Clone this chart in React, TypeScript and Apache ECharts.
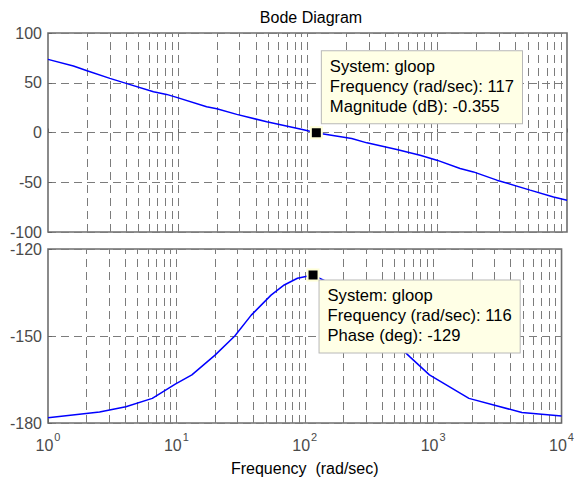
import React, { useEffect, useRef } from "react";
import * as echarts from "echarts";

const magFreq = [1, 1.57, 2, 3, 4, 6.5, 8.2, 9.8, 16.7, 20, 28.5, 48.5, 87.7, 117, 133, 219, 287, 488, 738, 993, 1500, 1900, 2880, 5200, 7870, 10000];
const magDb = [73.5, 66.8, 62.1, 54.4, 49.4, 40.9, 38.3, 35.3, 25.8, 23.8, 18.2, 10.8, 3.5, -0.355, -1.5, -6.0, -10.4, -17.1, -22.8, -27.8, -36.2, -39.6, -47.9, -57.9, -64.8, -68.1];

const phFreq = [1, 2.52, 4.04, 6.49, 9.8, 13.2, 20, 28.5, 38.3, 54.6, 69.2, 87.7, 116, 168, 250, 400, 656, 935, 1900, 4910, 10000];
const phDeg = [-178.2, -176.2, -174.4, -171.5, -166.6, -163.4, -156.6, -150, -142.8, -135.9, -132.4, -130.1, -129, -132.4, -138, -148, -157.1, -163.4, -171.5, -176.4, -177.6];

const gridFreqs = [2, 3, 4, 5, 6, 7, 8, 9, 10, 20, 30, 40, 50, 60, 70, 80, 90, 100, 200, 300, 400, 500, 600, 700, 800, 900, 1000, 2000, 3000, 4000, 5000, 6000, 7000, 8000, 9000];

const magCursor = { freq: 117, value: -0.355, label: ["System: gloop", "Frequency (rad/sec): 117", "Magnitude (dB): -0.355"] };
const phCursor = { freq: 116, value: -129, label: ["System: gloop", "Frequency (rad/sec): 116", "Phase (deg): -129"] };

const FONT = 'Arial, "Liberation Sans", sans-serif';
const GRID_COLOR = "#7c7c7c";

export default function App() {
  const ref = useRef<HTMLDivElement>(null);
  useEffect(() => {
    if (!ref.current) return;
    const chart = echarts.init(ref.current, null, { renderer: "svg" });
    const vLines = {
      silent: true,
      symbol: ["none", "none"],
      label: { show: false },
      lineStyle: { color: GRID_COLOR, type: [8, 5], width: 1 },
      data: gridFreqs.map((f) => ({ xAxis: f })),
      z: 1,
    };
    const cursorLabel = (lines: string[], pos: number[]) => ({
      show: true,
      position: pos,
      formatter: lines.join("\n"),
      backgroundColor: "#ffffe6",
      borderColor: "#b8b8b8",
      borderWidth: 1,
      padding: [5, 8, 7, 8],
      lineHeight: 20,
      fontSize: 16.6,
      fontFamily: FONT,
      color: "#000",
      align: "left",
      verticalAlign: "top",
    });
    const xBase = {
      type: "log",
      logBase: 10,
      min: 1,
      max: 10000,
      axisLine: { show: false },
      splitLine: { show: false },
      axisTick: { show: true, inside: true, length: 4, lineStyle: { color: "#666" } },
    };
    const yBase = {
      type: "value",
      axisLine: { show: false },
      axisTick: { show: true, inside: true, length: 4, lineStyle: { color: "#666" } },
      splitLine: { show: true, lineStyle: { color: GRID_COLOR, type: [8, 5], width: 1 } },
      axisLabel: { fontSize: 16, fontFamily: FONT, color: "#4a4a4a", margin: 6 },
    };
    chart.setOption({
      animation: false,
      backgroundColor: "#fff",
      title: {
        text: "Bode Diagram",
        left: 306,
        top: 4,
        textAlign: "center",
        textStyle: { fontSize: 16, fontWeight: "normal", fontFamily: FONT, color: "#000" },
      },
      grid: [
        { left: 48, top: 33, width: 519, height: 199, show: true, borderColor: "#6e6e6e", borderWidth: 1.6, backgroundColor: "transparent" },
        { left: 48, top: 249, width: 519, height: 174, show: true, borderColor: "#6e6e6e", borderWidth: 1.6, backgroundColor: "transparent" },
      ],
      xAxis: [
        { ...xBase, gridIndex: 0, axisLabel: { show: false } },
        {
          ...xBase,
          gridIndex: 1,
          name: "Frequency  (rad/sec)",
          nameLocation: "middle",
          nameGap: 37,
          nameTextStyle: { fontSize: 16, fontFamily: FONT, color: "#000" },
          axisLabel: {
            margin: 8,
            formatter: (v: number) => `{b|10}{s|${Math.round(Math.log10(v))}}`,
            rich: {
              b: { fontSize: 16, fontFamily: FONT, color: "#4a4a4a", lineHeight: 22, verticalAlign: "bottom" },
              s: { fontSize: 11, fontFamily: FONT, color: "#4a4a4a", lineHeight: 22, verticalAlign: "top", padding: [0, 0, 0, 1] },
            },
          },
        },
      ],
      yAxis: [
        { ...yBase, gridIndex: 0, min: -100, max: 100, interval: 50 },
        { ...yBase, gridIndex: 1, min: -180, max: -120, interval: 30 },
      ],
      series: [
        {
          type: "line",
          xAxisIndex: 0,
          yAxisIndex: 0,
          data: magFreq.map((f, i) => [f, magDb[i]]),
          showSymbol: false,
          lineStyle: { color: "#0000ff", width: 1.5 },
          z: 3,
          markLine: vLines,
          markPoint: {
            z: 10,
            symbol: "rect",
            symbolSize: 11,
            itemStyle: { color: "#000", borderColor: "#ffffd8", borderWidth: 2 },
            data: [{ coord: [magCursor.freq, magCursor.value] }],
            label: cursorLabel(magCursor.label, [12, -75]),
          },
        },
        {
          type: "line",
          xAxisIndex: 1,
          yAxisIndex: 1,
          data: phFreq.map((f, i) => [f, phDeg[i]]),
          showSymbol: false,
          lineStyle: { color: "#0000ff", width: 1.5 },
          z: 3,
          markLine: vLines,
          markPoint: {
            z: 10,
            symbol: "rect",
            symbolSize: 11,
            itemStyle: { color: "#000", borderColor: "#ffffd8", borderWidth: 2 },
            data: [{ coord: [phCursor.freq, phCursor.value] }],
            label: cursorLabel(phCursor.label, [13, 12]),
          },
        },
      ],
    });
    return () => chart.dispose();
  }, []);
  return <div ref={ref} style={{ position: "fixed", left: 0, top: 0, width: 577, height: 483 }} />;
}
